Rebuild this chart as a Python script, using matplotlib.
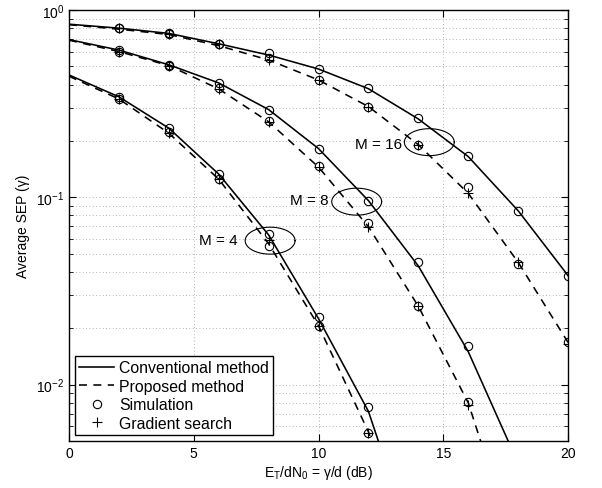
import numpy as np
import matplotlib
matplotlib.use('Agg')
import matplotlib.pyplot as plt
from matplotlib.lines import Line2D

plt.rcParams['font.family'] = ['Liberation Sans', 'DejaVu Sans']
plt.rcParams['mathtext.fontset'] = 'custom'
plt.rcParams['mathtext.rm'] = 'Liberation Sans'
plt.rcParams['mathtext.it'] = 'Liberation Sans'
plt.rcParams['mathtext.default'] = 'regular'

# SNR grid (dB)
snr_line = [0, 2, 4, 6, 8, 10, 12, 14, 16, 18, 20]
snr_pts = [2, 4, 6, 8, 10, 12, 14, 16, 18, 20]

# analytical curves, conventional (solid) and proposed (dashed)
conv = {
    4: [0.45, 0.344, 0.234, 0.133, 0.063, 0.0225, 0.0072, 0.00115, 0.0002, 0.0001, 0.0001],
    8: [0.695, 0.611, 0.51, 0.408, 0.294, 0.182, 0.096, 0.043, 0.015, 0.0038, 0.0008],
    16: [0.84, 0.80, 0.75, 0.66, 0.575, 0.484, 0.38, 0.262, 0.165, 0.0848, 0.0382],
}
prop = {
    4: [0.443, 0.335, 0.22, 0.125, 0.0565, 0.0206, 0.0056, 0.0010, 0.0002, 0.0001, 0.0001],
    8: [0.69, 0.60, 0.505, 0.379, 0.253, 0.145, 0.0697, 0.0262, 0.0080, 0.0012, 0.0002],
    16: [0.835, 0.79, 0.74, 0.645, 0.541, 0.423, 0.305, 0.191, 0.105, 0.045, 0.0168],
}

# simulation points (circles)
sim_conv = {
    4: [0.344, 0.234, 0.133, 0.0637, 0.0231, 0.0076, np.nan, np.nan, np.nan, np.nan],
    8: [0.611, 0.51, 0.408, 0.294, 0.182, 0.096, 0.0453, 0.0161, np.nan, np.nan],
    16: [0.80, 0.75, 0.66, 0.587, 0.484, 0.383, 0.264, 0.167, 0.0848, 0.0382],
}
sim_prop = {
    4: [0.335, 0.222, 0.125, 0.0552, 0.0206, 0.0055, np.nan, np.nan, np.nan, np.nan],
    8: [0.60, 0.505, 0.385, 0.256, 0.147, 0.0726, 0.0262, 0.0081, np.nan, np.nan],
    16: [0.80, 0.745, 0.655, 0.554, 0.423, 0.305, 0.191, 0.114, 0.044, 0.0168],
}
# gradient search points (plus)
grad = {
    4: [0.335, 0.22, 0.125, 0.0593, 0.0206, 0.0055, np.nan, np.nan, np.nan, np.nan],
    8: [0.60, 0.505, 0.379, 0.253, 0.145, 0.0697, 0.0262, 0.0078, np.nan, np.nan],
    16: [0.80, 0.745, 0.655, 0.541, 0.423, 0.305, 0.191, 0.105, 0.045, 0.0165],
}

# annotation ellipses: centre x (dB), centre y, label
ell_cx = {4: 8.06, 8: 11.53, 16: 14.44}
ell_cy = {4: 0.0587, 8: 0.0948, 16: 0.197}
lab_xy = {4: (5.2, 0.0565), 8: (8.85, 0.0925), 16: (11.45, 0.183)}

fig = plt.figure(figsize=(6.02, 4.89), dpi=100)
ax = fig.add_axes([0.1146, 0.0961, 0.829, 0.8814])

for M in [4, 8, 16]:
    ax.plot(snr_line, conv[M], 'k-', lw=1.15)
    ax.plot(snr_line, prop[M], 'k--', lw=1.15, dashes=(5, 4))
    ax.plot(snr_pts, sim_conv[M], 'ko', mfc='none', ms=6, mew=0.8)
    ax.plot(snr_pts, sim_prop[M], 'ko', mfc='none', ms=6, mew=0.8)
    ax.plot(snr_pts, grad[M], 'k+', ms=6.5, mew=0.8)
    # ellipse around curves
    t = np.linspace(0, 2 * np.pi, 200)
    ex = ell_cx[M] + 1.0 * np.cos(t)
    ey = 10 ** (np.log10(ell_cy[M]) + 0.072 * np.sin(t))
    ax.plot(ex, ey, 'k-', lw=0.8)
    ax.text(lab_xy[M][0], lab_xy[M][1], 'M = %d' % M, fontsize=11)

ax.set_yscale('log')
ax.set_xlim(0, 20)
ax.set_ylim(5e-3, 1)
ax.set_xticks([0, 5, 10, 15, 20])
ax.tick_params(which='both', direction='in', top=True, right=True, labelsize=10)
ax.tick_params(which='major', length=5)
ax.tick_params(which='minor', length=3)
ax.grid(True, which='major', ls=(0, (1, 3)), color='0.6', lw=0.6)
ax.grid(True, which='minor', axis='y', ls=(0, (1, 3)), color='0.6', lw=0.6)
for s in ax.spines.values():
    s.set_linewidth(1.0)

ax.set_xlabel('E$_T$/dN$_0$ = γ/d (dB)', fontsize=10, labelpad=2)
ax.set_ylabel('Average SEP (γ)', fontsize=10)

handles = [
    Line2D([], [], color='k', ls='-', lw=1.15),
    Line2D([], [], color='k', ls='--', lw=1.15, dashes=(5, 4)),
    Line2D([], [], color='k', ls='none', marker='o', mfc='none', ms=6, mew=0.8),
    Line2D([], [], color='k', ls='none', marker='+', ms=6.5, mew=0.8),
]
labels = ['Conventional method', 'Proposed method', 'Simulation', 'Gradient search']
leg = ax.legend(handles, labels, loc='lower left', fontsize=11.4, fancybox=False,
                edgecolor='k', framealpha=1, borderaxespad=0.4, handlelength=2.2,
                labelspacing=0.22, borderpad=0.25, handletextpad=0.3)
leg.get_frame().set_linewidth(1.0)

fig.savefig('out.png', dpi=100)
